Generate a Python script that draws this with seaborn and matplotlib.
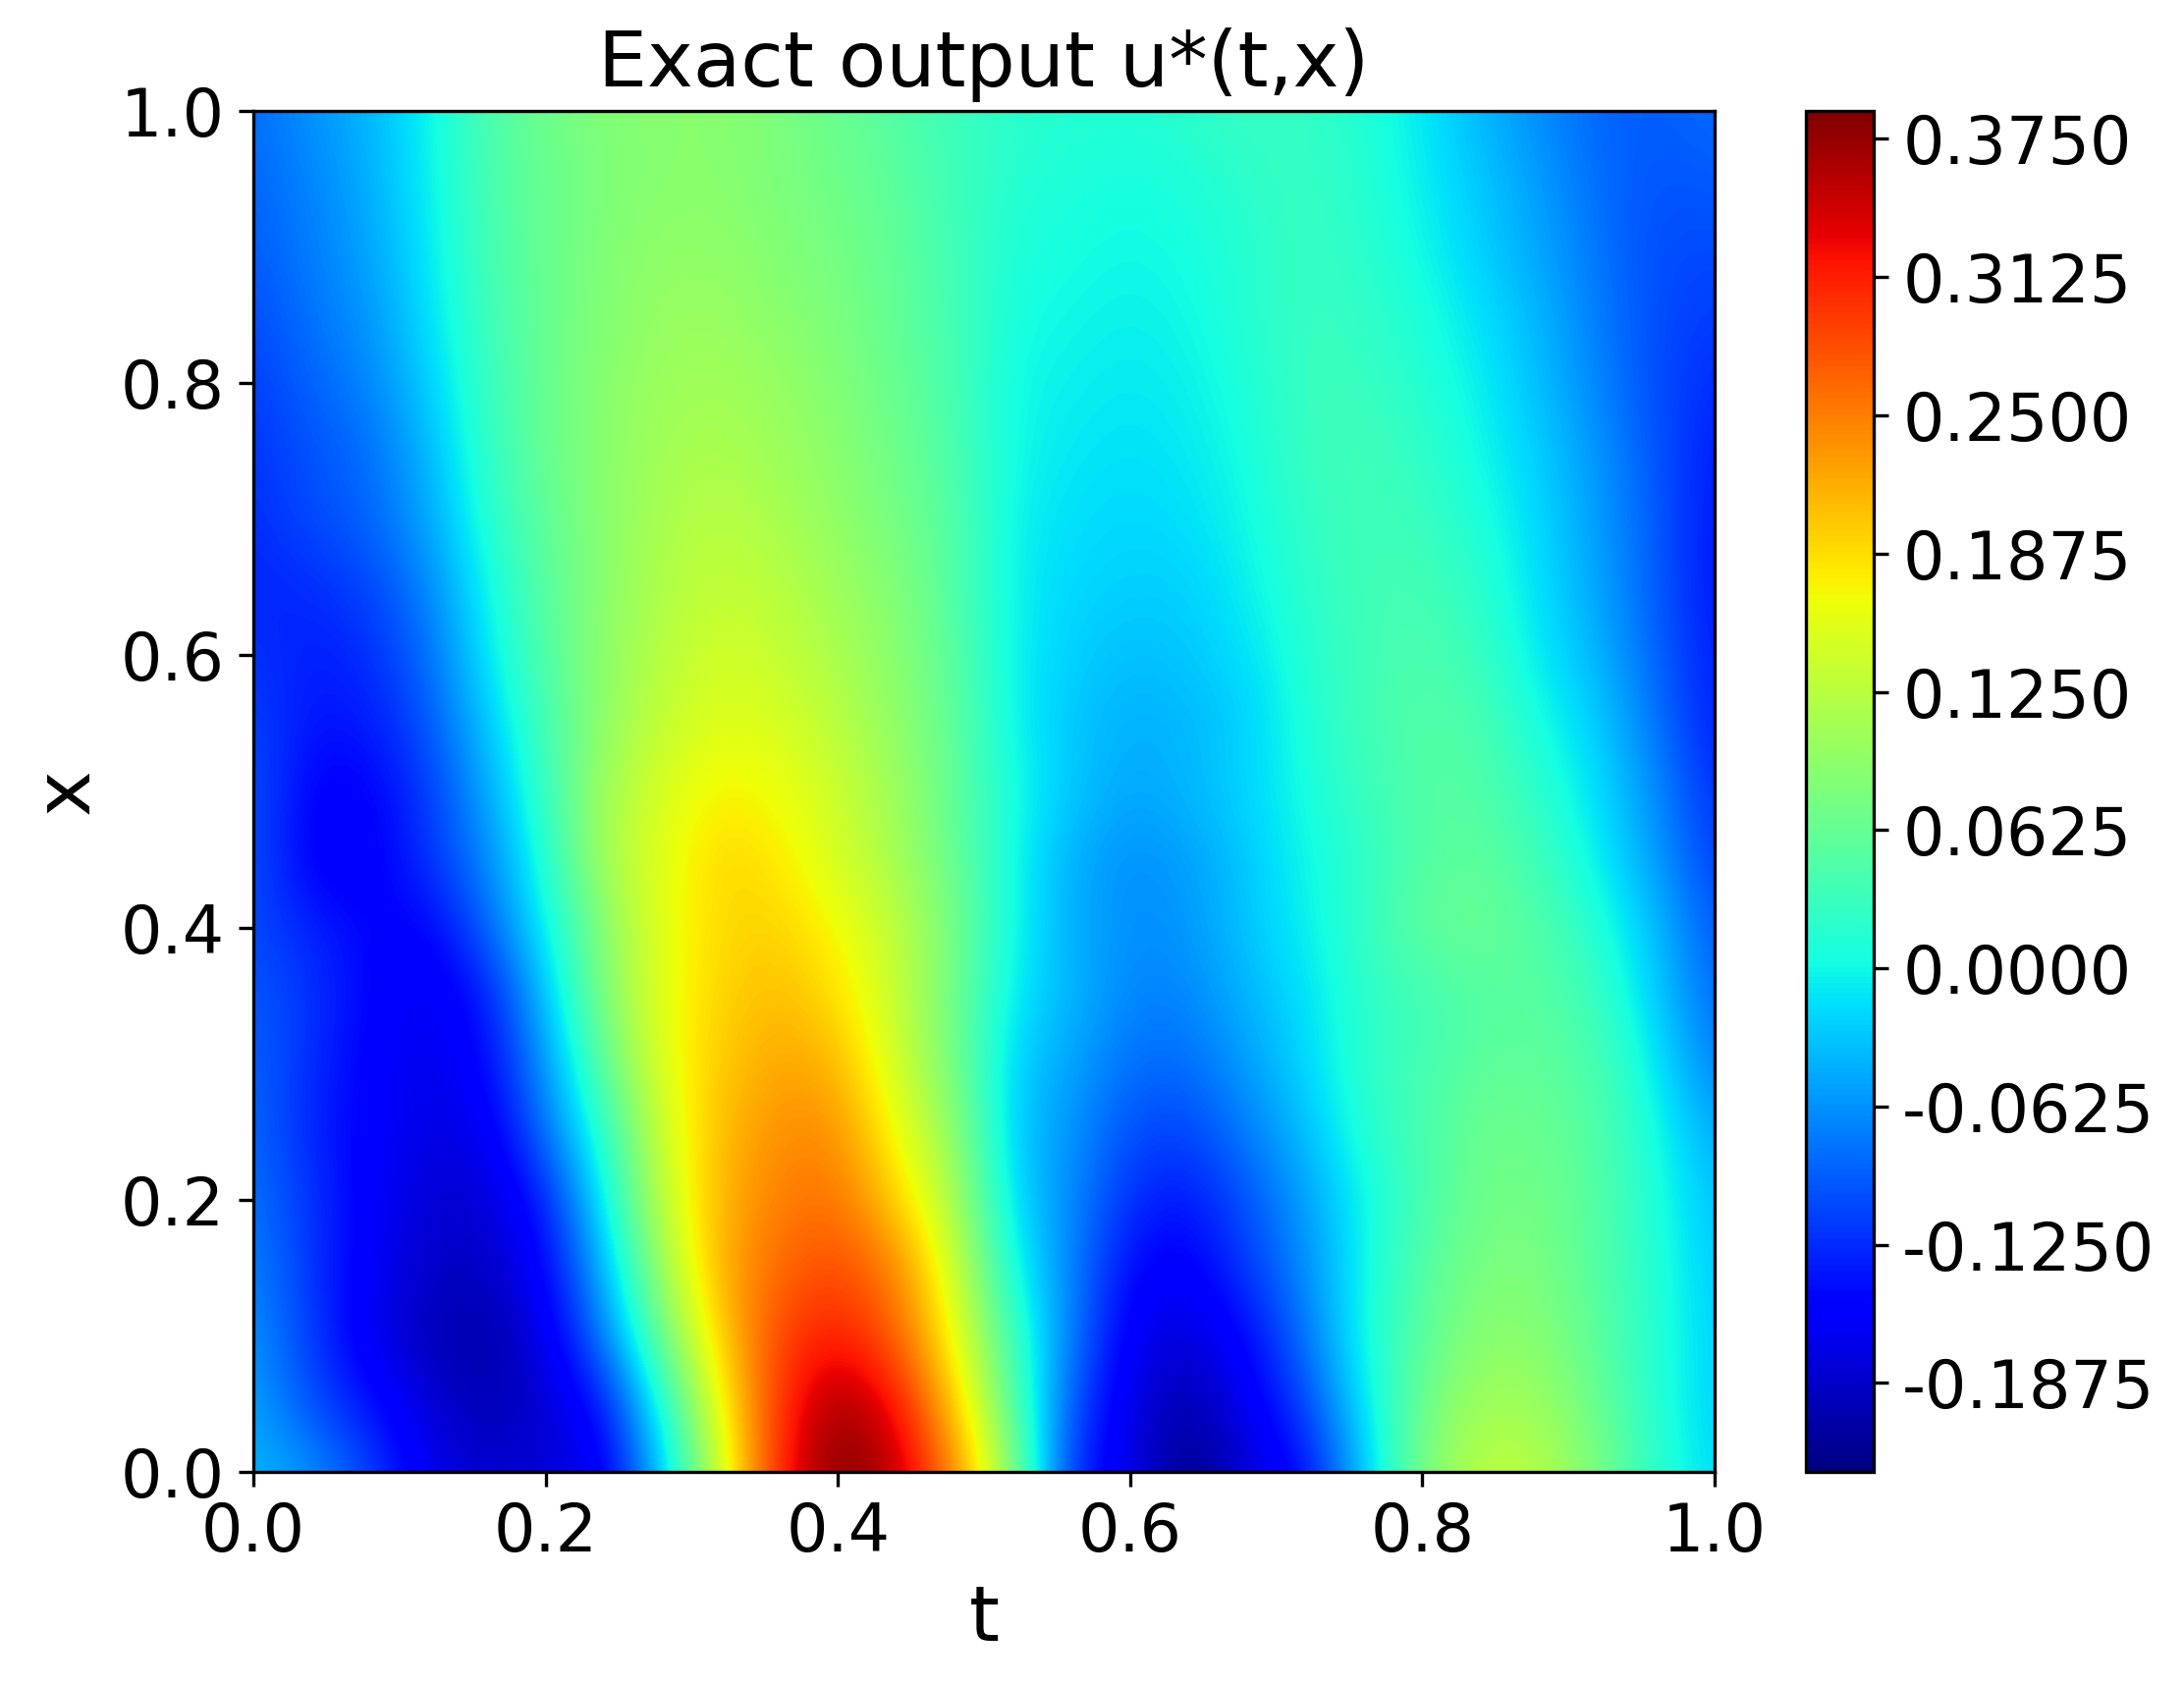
import numpy as np
import matplotlib
matplotlib.use("Agg")
import matplotlib.pyplot as plt
import seaborn as sns

# values, one list per x level, t runs 0.00 .. 1.00 in steps of 0.04
t_values = [0.00, 0.04, 0.08, 0.12, 0.16, 0.20, 0.24, 0.28, 0.32, 0.36, 0.40, 0.44, 0.48,
            0.52, 0.56, 0.60, 0.64, 0.68, 0.72, 0.76, 0.80, 0.84, 0.88, 0.92, 0.96, 1.00]
x_values = [0.00, 0.05, 0.10, 0.15, 0.20, 0.25, 0.30, 0.35, 0.40, 0.45, 0.50,
            0.55, 0.60, 0.65, 0.70, 0.75, 0.80, 0.85, 0.90, 0.95, 1.00]

u_x000 = [-.04, -.06, -.11, -.17, -.185, -.18, -.17, -.03, .14, .315, .388, .36, .245,
          .09, -.13, -.17, -.228, -.18, -.15, -.03, .08, .13, .125, .08, .02, -.02]
u_x005 = [-.05, -.105, -.14, -.18, -.20, -.185, -.14, .01, .17, .30, .375, .325, .20,
          .05, -.10, -.175, -.205, -.165, -.11, -.01, .07, .11, .105, .065, .015, -.025]
u_x010 = [-.06, -.115, -.17, -.195, -.21, -.17, -.075, .07, .20, .29, .315, .27, .165,
          .03, -.075, -.165, -.18, -.15, -.08, .005, .055, .09, .09, .055, .015, -.025]
u_x015 = [-.07, -.12, -.16, -.19, -.19, -.155, -.04, .11, .22, .265, .285, .25, .14,
          .0, -.07, -.15, -.16, -.115, -.065, .0, .05, .08, .08, .05, .015, -.03]
u_x020 = [-.08, -.12, -.16, -.18, -.185, -.135, -.005, .135, .215, .25, .26, .195, .115,
          -.02, -.065, -.125, -.14, -.10, -.055, .0, .04, .07, .075, .05, .01, -.035]
u_x025 = [-.085, -.13, -.155, -.175, -.17, -.08, .02, .145, .21, .24, .24, .165, .095,
          -.03, -.06, -.105, -.11, -.075, -.035, .015, .04, .07, .065, .05, .005, -.05]
u_x030 = [-.09, -.125, -.155, -.17, -.15, -.06, .06, .16, .20, .225, .215, .14, .075,
          -.025, -.05, -.085, -.085, -.055, -.02, .02, .04, .055, .06, .045, -.01, -.075]
u_x035 = [-.095, -.12, -.15, -.17, -.14, -.03, .085, .16, .195, .21, .185, .135, .07,
          -.01, -.04, -.07, -.07, -.04, -.015, .02, .035, .05, .055, .03, -.025, -.09]
u_x040 = [-.105, -.13, -.15, -.155, -.09, -.005, .09, .16, .19, .195, .17, .13, .075,
          .0, -.045, -.065, -.06, -.03, -.005, .025, .06, .065, .05, .015, -.035, -.10]
u_x045 = [-.10, -.16, -.16, -.12, -.07, .015, .115, .155, .195, .18, .145, .11, .065,
          .0, -.045, -.065, -.055, -.03, .0, .02, .05, .06, .035, -.005, -.055, -.115]
u_x050 = [-.10, -.155, -.155, -.115, -.05, .03, .11, .15, .175, .165, .14, .105, .06,
          .005, -.03, -.05, -.04, -.02, .005, .03, .05, .05, .02, -.015, -.065, -.125]
u_x055 = [-.11, -.14, -.135, -.10, -.03, .04, .095, .135, .155, .15, .125, .095, .06,
          -.005, -.03, -.045, -.04, -.025, .01, .035, .05, .045, .005, -.025, -.08, -.135]
u_x060 = [-.12, -.135, -.125, -.085, -.01, .05, .095, .125, .145, .135, .115, .09, .055,
          -.005, -.025, -.035, -.03, -.015, .015, .035, .045, .03, -.01, -.04, -.09, -.135]
u_x065 = [-.13, -.125, -.11, -.07, .0, .055, .09, .12, .135, .125, .105, .085, .05,
          -.005, -.02, -.025, -.025, -.005, .02, .035, .04, .02, -.015, -.05, -.095, -.14]
u_x070 = [-.125, -.105, -.09, -.05, .015, .06, .09, .115, .125, .115, .095, .075, .05,
          -.005, -.015, -.02, -.015, .0, .025, .035, .03, .01, -.02, -.055, -.095, -.14]
u_x075 = [-.12, -.10, -.085, -.04, .025, .065, .09, .11, .115, .105, .09, .07, .045,
          .0, -.01, -.015, -.01, .005, .03, .035, .025, .0, -.025, -.06, -.10, -.135]
u_x080 = [-.115, -.09, -.07, -.025, .03, .065, .09, .105, .11, .10, .085, .065, .04,
          .0, -.005, -.01, -.005, .01, .03, .03, .015, -.005, -.035, -.07, -.105, -.125]
u_x085 = [-.105, -.08, -.06, -.015, .035, .065, .085, .10, .10, .09, .08, .06, .04,
          .005, .0, -.005, .0, .015, .03, .025, .01, -.015, -.04, -.075, -.105, -.115]
u_x090 = [-.095, -.075, -.05, -.01, .04, .065, .085, .095, .095, .085, .075, .06, .035,
          .01, .005, .0, .005, .015, .03, .02, .0, -.025, -.05, -.08, -.105, -.105]
u_x095 = [-.09, -.07, -.045, -.005, .04, .065, .08, .09, .09, .08, .07, .055, .035,
          .015, .01, .005, .01, .02, .03, .015, -.005, -.03, -.055, -.085, -.10, -.095]
u_x100 = [-.085, -.06, -.04, -.003, .045, .07, .085, .09, .09, .08, .065, .05, .03,
          .02, .015, .015, .02, .03, .025, .015, -.01, -.04, -.065, -.09, -.095, -.085]

axis_ticks = [0.0, 0.2, 0.4, 0.6, 0.8, 1.0]
axis_labels = ["0.0", "0.2", "0.4", "0.6", "0.8", "1.0"]
cbar_ticks = [-0.1875, -0.125, -0.0625, 0.0, 0.0625, 0.125, 0.1875, 0.25, 0.3125, 0.375]

u_grid = np.array([u_x000, u_x005, u_x010, u_x015, u_x020, u_x025, u_x030,
                   u_x035, u_x040, u_x045, u_x050, u_x055, u_x060, u_x065,
                   u_x070, u_x075, u_x080, u_x085, u_x090, u_x095, u_x100])
n_x, n_t = u_grid.shape

fig = plt.figure(figsize=(2224 / 300, 1716 / 300), dpi=300)
ax = fig.add_axes([258 / 2224, 217 / 1716, 1488 / 2224, 1386 / 1716])
cax = fig.add_axes([1839 / 2224, 217 / 1716, 69 / 2224, 1386 / 1716])

sns.heatmap(u_grid, ax=ax, cbar_ax=cax, cmap="jet", vmin=-0.2277, vmax=0.3876,
            cbar_kws={"ticks": cbar_ticks, "format": "%.4f"})

# the field is smooth in the original: same values and norm, but resampled in
# data space (gouraud shading would blend the rgb colours and turn them grey)
mesh = ax.collections[0]
ax.imshow(u_grid, cmap=mesh.cmap, norm=mesh.norm, origin="lower", aspect="auto",
          interpolation="bicubic", interpolation_stage="data",
          extent=(-0.5, n_t - 0.5, -0.5, n_x - 0.5))
mesh.set_visible(False)

# cell indices back to t and x
ax.set_xlim(0, n_t - 1)
ax.set_ylim(0, n_x - 1)
ax.set_xticks(np.interp(axis_ticks, t_values, np.arange(n_t)))
ax.set_yticks(np.interp(axis_ticks, x_values, np.arange(n_x)))
ax.set_xticklabels(axis_labels, rotation=0, fontsize=16)
ax.set_yticklabels(axis_labels, rotation=0, fontsize=16, va="center_baseline")
ax.set_xlabel("t", fontsize=19)
ax.set_ylabel("x", fontsize=19)
ax.set_title("Exact output u*(t,x)", fontsize=19)
for side in ax.spines.values():
    side.set_visible(True)
    side.set_linewidth(0.8)

cbar = mesh.colorbar
cbar.outline.set_visible(True)
cbar.outline.set_linewidth(0.8)
cbar.ax.tick_params(labelsize=16, length=3.5, width=0.8)

fig.savefig("out.png", dpi=300)
plt.close(fig)
